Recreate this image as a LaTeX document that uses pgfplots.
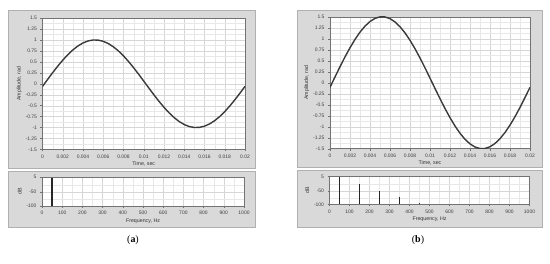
\documentclass[border=0pt]{standalone}
\usepackage{fontspec}
\setmainfont{Liberation Sans}
\newfontfamily\capfont{Liberation Serif}
\usepackage{pgfplots}
\pgfplotsset{compat=1.18}

\definecolor{panel}{HTML}{D9D9D9}
\definecolor{panelrule}{HTML}{B0B0B0}
\definecolor{curve}{HTML}{3A3A3A}

\pgfplotsset{
  lv/.style={
    scale only axis,
    anchor=south west,
    axis background/.style={fill=white},
    axis line style={draw=black!55, line width=0.4pt},
    tick pos=left,
    tick align=outside,
    major tick length=2bp,
    minor tick length=0pt,
    tick style={black!55, line width=0.35pt},
    grid=both,
    major grid style={black!16, line width=0.3pt},
    minor grid style={black!9, line width=0.25pt},
    tick label style={font=\fontsize{5}{5.5}\selectfont, text=black!75},
    label style={font=\fontsize{5.3}{6}\selectfont, text=black!80},
    /pgf/number format/assume math mode=true,
    scaled x ticks=false,
    scaled y ticks=false,
  },
  wave/.style={
    lv,
    xmin=0, xmax=0.02, ymin=-1.5, ymax=1.5,
    xtick={0,0.002,0.004,0.006,0.008,0.01,0.012,0.014,0.016,0.018,0.02},
    xticklabels={0,0.002,0.004,0.006,0.008,0.01,0.012,0.014,0.016,0.018,0.02},
    ytick={-1.5,-1.25,-1,-0.75,-0.5,-0.25,0,0.25,0.5,0.75,1,1.25,1.5},
    yticklabels={-1.5,-1.25,-1,-0.75,-0.5,-0.25,0,0.25,0.5,0.75,1,1.25,1.5},
    minor x tick num=1,
    minor y tick num=1,
    xlabel={Time, sec},
    ylabel={Amplitude, rad},
    xlabel style={yshift=3.5bp},
    ylabel style={yshift=-3bp},
  },
  spec/.style={
    lv,
    xmin=0, xmax=1000, ymin=-100, ymax=5,
    xtick={0,100,200,300,400,500,600,700,800,900,1000},
    xticklabels={0,100,200,300,400,500,600,700,800,900,1000},
    ytick={-100,-50,5},
    yticklabels={-100,-50,5},
    minor x tick num=1,
    minor ytick={-75,-25},
    xlabel={Frequency, Hz},
    ylabel={dB},
    xlabel style={yshift=3.5bp},
    ylabel style={yshift=-2bp},
  },
  comb/.style={color=black!85, line width=1.5bp, forget plot},
}

\begin{document}
\begin{tikzpicture}
\useasboundingbox (0bp,0bp) rectangle (550bp,264bp);

% panel frames
\filldraw[fill=panel, draw=panelrule, line width=0.6pt] (8bp,96bp) rectangle (255bp,254bp);
\filldraw[fill=panel, draw=panelrule, line width=0.6pt] (8bp,37bp) rectangle (255bp,93bp);
\filldraw[fill=panel, draw=panelrule, line width=0.6pt] (297bp,97bp) rectangle (542bp,254bp);
\filldraw[fill=panel, draw=panelrule, line width=0.6pt] (297bp,37bp) rectangle (542bp,94bp);

% (a) time signal
\begin{axis}[wave, at={(42.5bp,114.5bp)}, width=202.5bp, height=131.5bp]
\addplot[curve, line width=1.4bp] coordinates {
(0,-0.0600) (0.0005,0.0969) (0.001,0.2514) (0.0015,0.3997) (0.002,0.5382)
(0.0025,0.6633) (0.003,0.7720) (0.0035,0.8622) (0.004,0.9309) (0.0045,0.9765)
(0.005,0.9982) (0.0055,0.9953) (0.006,0.9679) (0.0065,0.9166) (0.007,0.8428)
(0.0075,0.7484) (0.008,0.6353) (0.0085,0.5066) (0.009,0.3655) (0.0095,0.2154)
(0.01,0.0600) (0.0105,-0.0969) (0.011,-0.2514) (0.0115,-0.3997) (0.012,-0.5382)
(0.0125,-0.6633) (0.013,-0.7720) (0.0135,-0.8622) (0.014,-0.9309) (0.0145,-0.9765)
(0.015,-0.9982) (0.0155,-0.9953) (0.016,-0.9679) (0.0165,-0.9166) (0.017,-0.8428)
(0.0175,-0.7484) (0.018,-0.6353) (0.0185,-0.5066) (0.019,-0.3655) (0.0195,-0.2154)
(0.02,-0.0600)};
\end{axis}

% (a) spectrum
\begin{axis}[spec, at={(42bp,58bp)}, width=202bp, height=29bp]
\addplot[comb] coordinates {(50,-100) (50,0)};
\end{axis}

% (b) time signal
\begin{axis}[wave, at={(330bp,115.3bp)}, width=200bp, height=132bp]
\addplot[curve, line width=1.4bp] coordinates {
(0,-0.1047) (0.0005,0.1308) (0.001,0.3629) (0.0015,0.5861) (0.002,0.7949)
(0.0025,0.9842) (0.003,1.1490) (0.0035,1.2858) (0.004,1.3908) (0.0045,1.4616)
(0.005,1.4964) (0.0055,1.4943) (0.006,1.4555) (0.0065,1.3808) (0.007,1.2720)
(0.0075,1.1321) (0.008,0.9642) (0.0085,0.7725) (0.009,0.5619) (0.0095,0.3375)
(0.01,0.1047) (0.0105,-0.1308) (0.011,-0.3629) (0.0115,-0.5861) (0.012,-0.7949)
(0.0125,-0.9842) (0.013,-1.1490) (0.0135,-1.2858) (0.014,-1.3908) (0.0145,-1.4616)
(0.015,-1.4964) (0.0155,-1.4943) (0.016,-1.4555) (0.0165,-1.3808) (0.017,-1.2720)
(0.0175,-1.1321) (0.018,-0.9642) (0.0185,-0.7725) (0.019,-0.5619) (0.0195,-0.3375)
(0.02,-0.1047)};
\end{axis}

% (b) spectrum
\begin{axis}[spec, at={(329.5bp,59.5bp)}, width=200bp, height=28bp]
\addplot[comb] coordinates {(50,-100) (50,3)};
\addplot[comb] coordinates {(150,-100) (150,-25)};
\addplot[comb] coordinates {(250,-100) (250,-50)};
\addplot[comb] coordinates {(350,-100) (350,-72)};
\addplot[comb] coordinates {(450,-100) (450,-93)};
\end{axis}

\node[font=\capfont\fontsize{10}{12}\selectfont] at (133bp,24bp) {(\textbf{a})};
\node[font=\capfont\fontsize{10}{12}\selectfont] at (418bp,24bp) {(\textbf{b})};
\end{tikzpicture}
\end{document}
